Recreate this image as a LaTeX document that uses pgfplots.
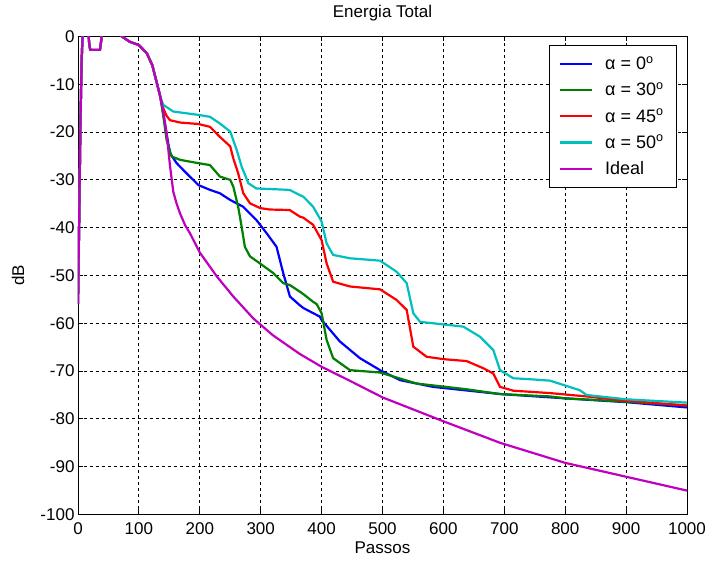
\documentclass[border=0pt]{standalone}
\usepackage{pgfplots}
\pgfplotsset{compat=1.18}
\usepackage{fontspec}
\setmainfont{Liberation Sans}
\definecolor{mblue}{RGB}{0,0,255}
\definecolor{mgreen}{RGB}{0,128,0}
\definecolor{mred}{RGB}{255,0,0}
\definecolor{mcyan}{RGB}{0,191,191}
\definecolor{mmag}{RGB}{191,0,191}
\begin{document}
\begin{tikzpicture}
\useasboundingbox (-78pt,-53.5pt) rectangle (627pt,514.5pt);
\begin{axis}[
  at={(0pt,0pt)}, anchor=south west,
  scale only axis, width=609pt, height=478pt,
  xmin=0, xmax=1000, ymin=-100, ymax=0,
  xtick={0,100,...,1000},
  ytick={-100,-90,...,0},
  yticklabels={-100,-90,-80,-70,-60,-50,-40,-30,-20,-10,0},
  xticklabels={0,100,200,300,400,500,600,700,800,900,1000},
  tick align=inside, major tick length=5pt,
  xtick pos=both, ytick pos=both,
  grid=major,
  major grid style={black, line width=0.8pt, dash pattern=on 3pt off 3pt},
  axis line style={black, line width=0.9pt},
  tick style={black, line width=0.9pt},
  tick label style={font=\fontsize{17}{17}\selectfont},
  xticklabel style={yshift=-5pt},
  yticklabel style={xshift=0pt},
  title={Energia Total},
  title style={font=\fontsize{17}{17}\selectfont, at={(axis description cs:0.5,1.0492)}, anchor=center, yshift=-6pt},
  xlabel={Passos},
  ylabel={dB},
  label style={font=\fontsize{17}{17}\selectfont},
  xlabel style={at={(axis description cs:0.5,-0.0701)}, anchor=center},
  ylabel style={at={(axis description cs:-0.0985,0.5)}, anchor=center},
  legend style={at={(0.9836,0.9822)}, anchor=north east, draw=black, line width=0.9pt,
    font=\fontsize{18}{18}\selectfont, row sep=3.7pt, column sep=8pt, inner xsep=9pt, inner ysep=7pt,
    nodes={inner sep=4pt}},
  legend cell align=left,
  legend image code/.code={\draw[#1, line width=2.4pt] (0pt,0pt) -- (32pt,0pt);},
  every axis plot/.append style={line width=2.2pt},
]
\addplot[mblue] coordinates {(0,-56) (2,-38) (4,-18) (6,-5) (8,2) (17,2) (18,-1) (20,-2.8) (36,-2.8) (38,-1) (40,2) (68,2) (72,0) (85,-1.1) (100,-1.8) (113,-3.5) (122,-6) (129,-9.5) (134,-12)
 (137,-14) (141,-17) (145,-20) (151,-24.4) (162,-26.5) (178,-28.6) (198,-31.1) (217,-32.1) (233,-32.8) (250,-34.2) (271,-35.6) (293,-38.4) (310,-41.2) (326,-44) (337,-49.5) (348,-54.4) (364,-56.2) (370,-56.8) (397,-58.6) (400,-59.3) (430,-63.8) (463,-67.3) (496,-69.8) (529,-71.9) (583,-73.3) (693,-74.8) (800,-75.7) (900,-76.5) (1000,-77.6)};
\addlegendentry{α = 0\textsuperscript{o}}
\addplot[mgreen] coordinates {(0,-56) (2,-38) (4,-18) (6,-5) (8,2) (17,2) (18,-1) (20,-2.8) (36,-2.8) (38,-1) (40,2) (68,2) (72,0) (85,-1.1) (100,-1.8) (113,-3.5) (122,-6) (129,-9.5) (134,-12)
 (137,-14) (141,-17.5) (145.6,-21.7) (153.8,-25.1) (167.5,-25.8) (197.6,-26.5) (216.7,-26.9) (233,-29.3) (250,-30) (255,-31.4) (263,-35.6) (268.7,-39.8) (274,-44) (282.4,-46) (299,-47.5) (320.7,-49.5) (337,-51.6) (348,-52) (364.5,-53.4) (370,-53.9) (386,-55.5) (392,-56) (400,-57.9) (408.3,-63.5) (419,-67.3) (446.6,-69.8) (496,-70.3) (556,-72.6) (638,-73.8) (693,-74.8) (775,-75.3) (800,-75.7) (900,-76.4) (1000,-77.2)};
\addlegendentry{α = 30\textsuperscript{o}}
\addplot[mred] coordinates {(0,-56) (2,-38) (4,-18) (6,-5) (8,2) (17,2) (18,-1) (20,-2.8) (36,-2.8) (38,-1) (40,2) (68,2) (72,0) (85,-1.1) (100,-1.8) (113,-3.5) (122,-6) (129,-9.5) (134,-12)
 (137,-13.6) (140,-15) (145,-16.5) (151,-17.5) (167.5,-18) (197.6,-18.3) (216.7,-18.9) (233,-21) (250,-23) (255,-25.5) (263,-28.6) (271.4,-32.8) (282.4,-34.9) (299,-35.9) (315,-36.2) (347.6,-36.3) (364.5,-37.7) (370,-37.9) (386,-39.4) (400,-42.6) (408.3,-47.5) (419,-51.3) (446.6,-52.3) (496,-52.9) (523,-55.1) (539.7,-57.2) (550.6,-64.9) (572.5,-67) (600,-67.5) (638,-67.9) (665.5,-69.4) (682,-70.5) (693,-73.3) (714.8,-74.1) (775,-74.6) (835,-75.3) (900,-76.2) (1000,-77.2)};
\addlegendentry{α = 45\textsuperscript{o}}
\addplot[mcyan] coordinates {(0,-56) (2,-38) (4,-18) (6,-5) (8,2) (17,2) (18,-1) (20,-2.8) (36,-2.8) (38,-1) (40,2) (68,2) (72,0) (85,-1.1) (100,-1.8) (113,-3.5) (122,-6) (129,-9.5) (134,-12)
 (137,-13.3) (140,-14.3) (156.5,-15.7) (197.6,-16.4) (216.7,-16.8) (233,-18.2) (250,-19.9) (260.5,-23.7) (268.7,-27.2) (279.7,-30.7) (293,-31.8) (331.7,-32) (347.6,-32.1) (364.5,-33.2) (370,-33.5) (386,-35.6) (400,-38.7) (408.3,-43.3) (419,-45.7) (446.6,-46.4) (496,-46.9) (523,-49.2) (539.7,-51.6) (550.6,-57.9) (561.6,-59.7) (583.4,-60) (632.7,-60.7) (660,-62.8) (682,-65.6) (693,-69.8) (714.8,-71.5) (742,-71.7) (775,-72) (802,-73.1) (824,-74) (835,-75) (900,-75.9) (1000,-76.6)};
\addlegendentry{α = 50\textsuperscript{o}}
\addplot[mmag] coordinates {(0,-56) (2,-38) (4,-18) (6,-5) (8,2) (17,2) (18,-1) (20,-2.8) (36,-2.8) (38,-1) (40,2) (68,2) (72,0) (85,-1.1) (100,-1.8) (113,-3.5) (122,-6) (129,-9.5) (134,-12)
 (137,-13.5) (141,-16.5) (145.6,-20.3) (151,-27) (156.5,-32.5) (162,-35) (167.5,-37) (176,-39.5) (184,-41.2) (200,-45.2) (228,-50.2) (255,-54.4) (288,-59) (320,-62.5) (364,-66.4) (400,-69.1) (446,-72) (500,-75.5) (550,-78) (600,-80.5) (693,-85) (800,-89.2) (900,-92.1) (1000,-95)};
\addlegendentry{Ideal}
\end{axis}
\end{tikzpicture}
\end{document}
